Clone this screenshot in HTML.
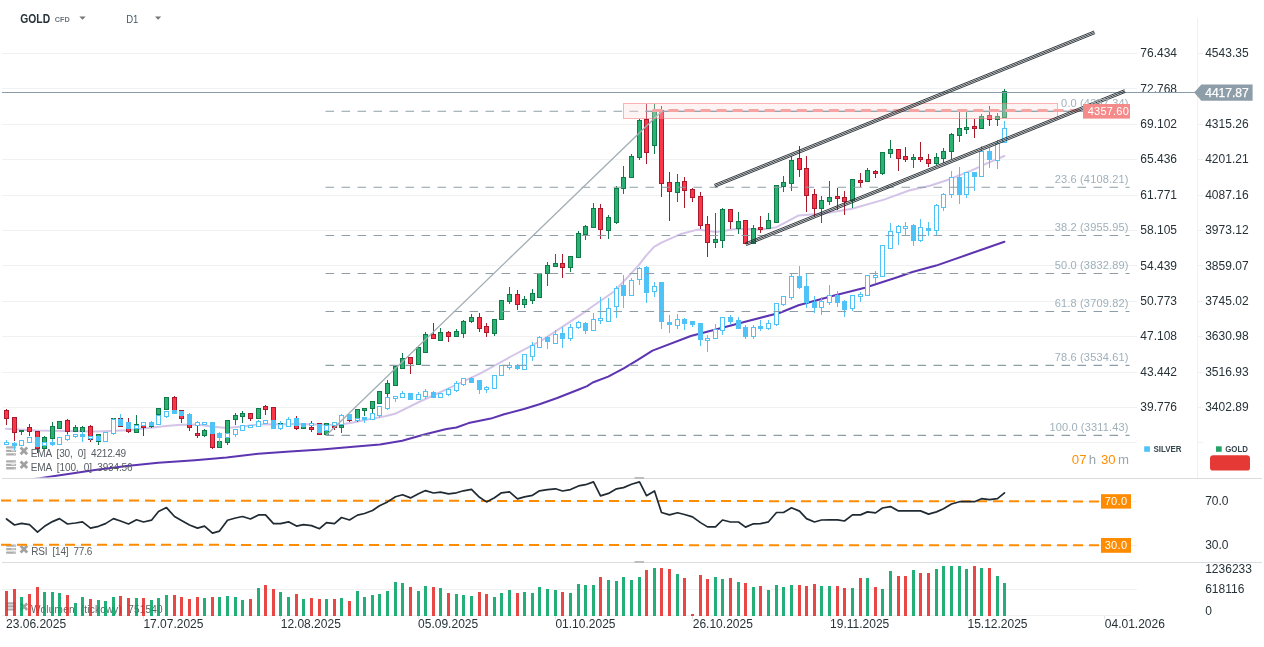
<!DOCTYPE html><html><head><meta charset="utf-8"><title>GOLD CFD D1</title>
<style>html,body{margin:0;padding:0;background:#fff;}body{width:1264px;height:647px;overflow:hidden;font-family:"Liberation Sans",sans-serif;}svg{display:block;will-change:transform;}text{font-family:"Liberation Sans",sans-serif;}</style></head><body>
<svg width="1264" height="647" viewBox="0 0 1264 647">
<rect width="1264" height="647" fill="#ffffff"/>
<defs><clipPath id="mainclip"><rect x="0" y="26" width="1197" height="451.5"/></clipPath></defs>
<g stroke="#eff1f3" stroke-width="1" shape-rendering="crispEdges">
<line x1="2" y1="53.5" x2="1136.6" y2="53.5"/>
<line x1="1197.5" y1="53.5" x2="1202.5" y2="53.5"/>
<line x1="2" y1="88.5" x2="1136.6" y2="88.5"/>
<line x1="1197.5" y1="88.5" x2="1202.5" y2="88.5"/>
<line x1="2" y1="124.5" x2="1136.6" y2="124.5"/>
<line x1="1197.5" y1="124.5" x2="1202.5" y2="124.5"/>
<line x1="2" y1="159.5" x2="1136.6" y2="159.5"/>
<line x1="1197.5" y1="159.5" x2="1202.5" y2="159.5"/>
<line x1="2" y1="195.5" x2="1136.6" y2="195.5"/>
<line x1="1197.5" y1="195.5" x2="1202.5" y2="195.5"/>
<line x1="2" y1="230.5" x2="1136.6" y2="230.5"/>
<line x1="1197.5" y1="230.5" x2="1202.5" y2="230.5"/>
<line x1="2" y1="265.5" x2="1136.6" y2="265.5"/>
<line x1="1197.5" y1="265.5" x2="1202.5" y2="265.5"/>
<line x1="2" y1="301.5" x2="1136.6" y2="301.5"/>
<line x1="1197.5" y1="301.5" x2="1202.5" y2="301.5"/>
<line x1="2" y1="336.5" x2="1136.6" y2="336.5"/>
<line x1="1197.5" y1="336.5" x2="1202.5" y2="336.5"/>
<line x1="2" y1="372.5" x2="1136.6" y2="372.5"/>
<line x1="1197.5" y1="372.5" x2="1202.5" y2="372.5"/>
<line x1="2" y1="407.5" x2="1136.6" y2="407.5"/>
<line x1="1197.5" y1="407.5" x2="1202.5" y2="407.5"/>
<line x1="2" y1="442.5" x2="1136.6" y2="442.5"/>
<line x1="1197.5" y1="442.5" x2="1202.5" y2="442.5"/>
<line x1="2" y1="501.5" x2="1136.6" y2="501.5"/>
<line x1="2" y1="545.5" x2="1136.6" y2="545.5"/>
<line x1="2" y1="589.5" x2="1136.6" y2="589.5"/>
<line x1="2" y1="615.5" x2="1131" y2="615.5"/>
<line x1="1197.5" y1="18" x2="1197.5" y2="478"/>
</g>
<g stroke="#d9dcde" stroke-width="1" shape-rendering="crispEdges">
<line x1="2" y1="478.5" x2="1261.5" y2="478.5"/>
<line x1="2" y1="562.5" x2="1261.5" y2="562.5"/>
</g>
<rect x="634.5" y="477" width="9.5" height="2" fill="#bdbdbd"/>
<rect x="634.5" y="561" width="9.5" height="2" fill="#bdbdbd"/>
<g clip-path="url(#mainclip)">
<path d="M6 428.7 L36 430.6 L97 431.4 L128 430.3 L166 425.9 L181 424.8 L197 424.5 L211 426.5 L227 428 L242 426.5 L258 424.6 L290 424.1 L322 424.6 L337 424.9 L353 422.5 L369 419.3 L385 416.2 L395 413.8 L419 402 L448 388.6 L480 373.6 L510 357 L543 339.6 L585 311.9 L591.6 307 L614.5 291.2 L638.2 265.9 L646.1 255.6 L654 246.9 L662 242.3 L680 234.3 L697.5 229.6 L716.5 232 L737 228.8 L760.8 229.6 L776.6 227.2 L798.7 215.4 L824 213.6 L852 208.8 L884 199.6 L909 190.5 L930 185.7 L947.5 180 L971.2 170.6 L987 163.4 L1004.4 156" fill="none" stroke="#d4c4e8" stroke-width="2" stroke-linejoin="round" stroke-linecap="round" />
<path d="M6 482.5 L38 478.4 L63.3 474.7 L94.9 470 L126.6 466 L158.2 462.8 L195 460.2 L226.6 457.6 L258.3 453.8 L290 451.5 L321.6 449.4 L353.2 446.7 L380 444.6 L402.2 440.8 L424.3 434.6 L446.5 429.1 L456.4 427.5 L468.6 423.1 L490.8 418.6 L504.1 414.2 L524 409.1 L539.5 404.2 L557.2 398 L579.4 389.2 L587.1 386.1 L592.7 382.5 L608.2 376.6 L623.7 368.4 L637 360.4 L652.5 350.6 L690.8 336 L722.4 327.8 L746.1 321.5 L780 312.8 L798.5 305.2 L833.3 295.7 L865 287.8 L896.6 277.5 L912.4 272 L936.1 265.6 L970 253.8 L1004.4 241.8" fill="none" stroke="#5e35b1" stroke-width="2.05" stroke-linejoin="round" stroke-linecap="round" />
<rect x="6.1" y="446.3" width="9.9" height="2.3" rx="0.6" fill="#adadad"/>
<rect x="13.8" y="447.1" width="1.5" height="0.7" fill="#ffffff" opacity="0.7"/>
<rect x="6.1" y="449.75" width="9.9" height="2.3" rx="0.6" fill="#adadad"/>
<rect x="11.2" y="450.45" width="3.9" height="0.75" fill="#ffffff" opacity="0.85"/>
<rect x="6.1" y="453.2" width="9.9" height="2.3" rx="0.6" fill="#adadad"/>
<rect x="13.8" y="454" width="1.5" height="0.7" fill="#ffffff" opacity="0.7"/>
<path d="M20.6 447.6 L27.2 454.2 M27.2 447.6 L20.6 454.2" stroke="#a2a2a2" stroke-width="2.8" stroke-linecap="butt"/>
<rect x="6.1" y="460.2" width="9.9" height="2.3" rx="0.6" fill="#adadad"/>
<rect x="13.8" y="461" width="1.5" height="0.7" fill="#ffffff" opacity="0.7"/>
<rect x="6.1" y="463.65" width="9.9" height="2.3" rx="0.6" fill="#adadad"/>
<rect x="11.2" y="464.35" width="3.9" height="0.75" fill="#ffffff" opacity="0.85"/>
<rect x="6.1" y="467.1" width="9.9" height="2.3" rx="0.6" fill="#adadad"/>
<rect x="13.8" y="467.9" width="1.5" height="0.7" fill="#ffffff" opacity="0.7"/>
<path d="M20.6 461.5 L27.2 468.1 M27.2 461.5 L20.6 468.1" stroke="#a2a2a2" stroke-width="2.8" stroke-linecap="butt"/>
<text x="30.8" y="456.8" font-size="10" fill="#555b60" textLength="95.3" lengthAdjust="spacing" xml:space="preserve">EMA  [30,  0]  4212.49</text>
<text x="30.8" y="470.7" font-size="10" fill="#555b60" textLength="101.8" lengthAdjust="spacing" xml:space="preserve">EMA  [100,  0]  3934.56</text>
<line x1="6.5" y1="409" x2="6.5" y2="425" stroke="#a81a2c" stroke-width="1"/>
<rect x="4.5" y="410.5" width="4" height="8" fill="#fc3548" stroke="#a81a2c" stroke-width="1"/>
<line x1="14.5" y1="417" x2="14.5" y2="441" stroke="#a81a2c" stroke-width="1"/>
<rect x="12.5" y="417.5" width="4" height="15" fill="#fc3548" stroke="#a81a2c" stroke-width="1"/>
<line x1="21.5" y1="430" x2="21.5" y2="435" stroke="#107a49" stroke-width="1"/>
<rect x="19.5" y="430.5" width="4" height="1" fill="#2ab272" stroke="#107a49" stroke-width="1"/>
<line x1="29.5" y1="424" x2="29.5" y2="436" stroke="#a81a2c" stroke-width="1"/>
<rect x="27.5" y="427.5" width="4" height="4" fill="#fc3548" stroke="#a81a2c" stroke-width="1"/>
<line x1="37.5" y1="431" x2="37.5" y2="453" stroke="#a81a2c" stroke-width="1"/>
<rect x="35.5" y="431.5" width="4" height="17" fill="#fc3548" stroke="#a81a2c" stroke-width="1"/>
<line x1="44.5" y1="436" x2="44.5" y2="448" stroke="#107a49" stroke-width="1"/>
<rect x="42.5" y="437.5" width="4" height="11" fill="#2ab272" stroke="#107a49" stroke-width="1"/>
<line x1="52.5" y1="422" x2="52.5" y2="438" stroke="#107a49" stroke-width="1"/>
<rect x="50.5" y="426.5" width="4" height="12" fill="#2ab272" stroke="#107a49" stroke-width="1"/>
<line x1="59.5" y1="422" x2="59.5" y2="428" stroke="#107a49" stroke-width="1"/>
<rect x="57.5" y="421.5" width="4" height="7" fill="#2ab272" stroke="#107a49" stroke-width="1"/>
<line x1="67.5" y1="419" x2="67.5" y2="434" stroke="#a81a2c" stroke-width="1"/>
<rect x="65.5" y="420.5" width="4" height="11" fill="#fc3548" stroke="#a81a2c" stroke-width="1"/>
<line x1="75.5" y1="425" x2="75.5" y2="431" stroke="#107a49" stroke-width="1"/>
<rect x="73.5" y="427.5" width="4" height="4" fill="#2ab272" stroke="#107a49" stroke-width="1"/>
<line x1="82.5" y1="426" x2="82.5" y2="431" stroke="#107a49" stroke-width="1"/>
<rect x="80.5" y="427.5" width="4" height="4" fill="#2ab272" stroke="#107a49" stroke-width="1"/>
<line x1="90.5" y1="425" x2="90.5" y2="442" stroke="#a81a2c" stroke-width="1"/>
<rect x="88.5" y="426.5" width="4" height="13" fill="#fc3548" stroke="#a81a2c" stroke-width="1"/>
<line x1="98.5" y1="434" x2="98.5" y2="445" stroke="#107a49" stroke-width="1"/>
<rect x="96.5" y="434.5" width="4" height="7" fill="#2ab272" stroke="#107a49" stroke-width="1"/>
<line x1="105.5" y1="432" x2="105.5" y2="434" stroke="#107a49" stroke-width="1"/>
<rect x="103.5" y="432.5" width="4" height="1" fill="#2ab272" stroke="#107a49" stroke-width="1"/>
<line x1="113.5" y1="418" x2="113.5" y2="420" stroke="#107a49" stroke-width="1"/>
<rect x="111.5" y="418.5" width="4" height="1" fill="#2ab272" stroke="#107a49" stroke-width="1"/>
<line x1="120.5" y1="418" x2="120.5" y2="427" stroke="#a81a2c" stroke-width="1"/>
<rect x="118.5" y="418.5" width="4" height="8" fill="#fc3548" stroke="#a81a2c" stroke-width="1"/>
<line x1="128.5" y1="418" x2="128.5" y2="433" stroke="#a81a2c" stroke-width="1"/>
<rect x="126.5" y="422.5" width="4" height="9" fill="#fc3548" stroke="#a81a2c" stroke-width="1"/>
<line x1="136.5" y1="415" x2="136.5" y2="432" stroke="#107a49" stroke-width="1"/>
<rect x="134.5" y="424.5" width="4" height="8" fill="#2ab272" stroke="#107a49" stroke-width="1"/>
<line x1="143.5" y1="426" x2="143.5" y2="436" stroke="#a81a2c" stroke-width="1"/>
<rect x="141.5" y="425.5" width="4" height="2" fill="#fc3548" stroke="#a81a2c" stroke-width="1"/>
<line x1="151.5" y1="421" x2="151.5" y2="428" stroke="#107a49" stroke-width="1"/>
<rect x="149.5" y="422.5" width="4" height="4" fill="#2ab272" stroke="#107a49" stroke-width="1"/>
<line x1="158.5" y1="408" x2="158.5" y2="415" stroke="#107a49" stroke-width="1"/>
<rect x="156.5" y="408.5" width="4" height="6" fill="#2ab272" stroke="#107a49" stroke-width="1"/>
<line x1="166.5" y1="397" x2="166.5" y2="410" stroke="#107a49" stroke-width="1"/>
<rect x="164.5" y="397.5" width="4" height="12" fill="#2ab272" stroke="#107a49" stroke-width="1"/>
<line x1="174.5" y1="396" x2="174.5" y2="413" stroke="#a81a2c" stroke-width="1"/>
<rect x="172.5" y="397.5" width="4" height="16" fill="#fc3548" stroke="#a81a2c" stroke-width="1"/>
<line x1="181.5" y1="410" x2="181.5" y2="423" stroke="#a81a2c" stroke-width="1"/>
<rect x="179.5" y="410.5" width="4" height="8" fill="#fc3548" stroke="#a81a2c" stroke-width="1"/>
<line x1="189.5" y1="413" x2="189.5" y2="431" stroke="#a81a2c" stroke-width="1"/>
<rect x="187.5" y="414.5" width="4" height="13" fill="#fc3548" stroke="#a81a2c" stroke-width="1"/>
<line x1="197.5" y1="426" x2="197.5" y2="438" stroke="#a81a2c" stroke-width="1"/>
<rect x="195.5" y="433.5" width="4" height="2" fill="#fc3548" stroke="#a81a2c" stroke-width="1"/>
<line x1="204.5" y1="429" x2="204.5" y2="437" stroke="#107a49" stroke-width="1"/>
<rect x="202.5" y="430.5" width="4" height="5" fill="#2ab272" stroke="#107a49" stroke-width="1"/>
<line x1="212.5" y1="422" x2="212.5" y2="449" stroke="#a81a2c" stroke-width="1"/>
<rect x="210.5" y="422.5" width="4" height="25" fill="#fc3548" stroke="#a81a2c" stroke-width="1"/>
<line x1="219.5" y1="433" x2="219.5" y2="448" stroke="#107a49" stroke-width="1"/>
<rect x="217.5" y="441.5" width="4" height="6" fill="#2ab272" stroke="#107a49" stroke-width="1"/>
<line x1="227.5" y1="420" x2="227.5" y2="445" stroke="#107a49" stroke-width="1"/>
<rect x="225.5" y="420.5" width="4" height="22" fill="#2ab272" stroke="#107a49" stroke-width="1"/>
<line x1="235.5" y1="413" x2="235.5" y2="425" stroke="#107a49" stroke-width="1"/>
<rect x="233.5" y="415.5" width="4" height="4" fill="#2ab272" stroke="#107a49" stroke-width="1"/>
<line x1="242.5" y1="411" x2="242.5" y2="423" stroke="#107a49" stroke-width="1"/>
<rect x="240.5" y="413.5" width="4" height="3" fill="#2ab272" stroke="#107a49" stroke-width="1"/>
<line x1="250.5" y1="414" x2="250.5" y2="421" stroke="#a81a2c" stroke-width="1"/>
<rect x="248.5" y="413.5" width="4" height="5" fill="#fc3548" stroke="#a81a2c" stroke-width="1"/>
<line x1="258.5" y1="408" x2="258.5" y2="419" stroke="#107a49" stroke-width="1"/>
<rect x="256.5" y="408.5" width="4" height="10" fill="#2ab272" stroke="#107a49" stroke-width="1"/>
<line x1="265.5" y1="405" x2="265.5" y2="415" stroke="#a81a2c" stroke-width="1"/>
<rect x="263.5" y="406.5" width="4" height="3" fill="#fc3548" stroke="#a81a2c" stroke-width="1"/>
<line x1="273.5" y1="407" x2="273.5" y2="428" stroke="#a81a2c" stroke-width="1"/>
<rect x="271.5" y="407.5" width="4" height="20" fill="#fc3548" stroke="#a81a2c" stroke-width="1"/>
<line x1="280.5" y1="421" x2="280.5" y2="430" stroke="#107a49" stroke-width="1"/>
<rect x="278.5" y="423.5" width="4" height="1" fill="#2ab272" stroke="#107a49" stroke-width="1"/>
<line x1="288.5" y1="417" x2="288.5" y2="426" stroke="#107a49" stroke-width="1"/>
<rect x="286.5" y="419.5" width="4" height="1" fill="#2ab272" stroke="#107a49" stroke-width="1"/>
<line x1="296.5" y1="416" x2="296.5" y2="430" stroke="#a81a2c" stroke-width="1"/>
<rect x="294.5" y="420.5" width="4" height="8" fill="#fc3548" stroke="#a81a2c" stroke-width="1"/>
<line x1="303.5" y1="424" x2="303.5" y2="428" stroke="#107a49" stroke-width="1"/>
<rect x="301.5" y="424.5" width="4" height="4" fill="#2ab272" stroke="#107a49" stroke-width="1"/>
<line x1="311.5" y1="421" x2="311.5" y2="432" stroke="#a81a2c" stroke-width="1"/>
<rect x="309.5" y="427.5" width="4" height="2" fill="#fc3548" stroke="#a81a2c" stroke-width="1"/>
<line x1="319.5" y1="423" x2="319.5" y2="435" stroke="#a81a2c" stroke-width="1"/>
<rect x="317.5" y="423.5" width="4" height="11" fill="#fc3548" stroke="#a81a2c" stroke-width="1"/>
<line x1="326.5" y1="423" x2="326.5" y2="435" stroke="#107a49" stroke-width="1"/>
<rect x="324.5" y="423.5" width="4" height="11" fill="#2ab272" stroke="#107a49" stroke-width="1"/>
<line x1="334.5" y1="424" x2="334.5" y2="430" stroke="#a81a2c" stroke-width="1"/>
<rect x="332.5" y="426.5" width="4" height="1" fill="#fc3548" stroke="#a81a2c" stroke-width="1"/>
<line x1="341.5" y1="423" x2="341.5" y2="433" stroke="#107a49" stroke-width="1"/>
<rect x="339.5" y="425.5" width="4" height="2" fill="#2ab272" stroke="#107a49" stroke-width="1"/>
<line x1="349.5" y1="419" x2="349.5" y2="422" stroke="#a81a2c" stroke-width="1"/>
<rect x="347.5" y="419.5" width="4" height="1" fill="#fc3548" stroke="#a81a2c" stroke-width="1"/>
<line x1="357.5" y1="409" x2="357.5" y2="422" stroke="#107a49" stroke-width="1"/>
<rect x="355.5" y="409.5" width="4" height="9" fill="#2ab272" stroke="#107a49" stroke-width="1"/>
<line x1="364.5" y1="408" x2="364.5" y2="416" stroke="#107a49" stroke-width="1"/>
<rect x="362.5" y="408.5" width="4" height="2" fill="#2ab272" stroke="#107a49" stroke-width="1"/>
<line x1="372.5" y1="401" x2="372.5" y2="413" stroke="#107a49" stroke-width="1"/>
<rect x="370.5" y="401.5" width="4" height="7" fill="#2ab272" stroke="#107a49" stroke-width="1"/>
<line x1="379.5" y1="391" x2="379.5" y2="404" stroke="#107a49" stroke-width="1"/>
<rect x="377.5" y="391.5" width="4" height="12" fill="#2ab272" stroke="#107a49" stroke-width="1"/>
<line x1="387.5" y1="380" x2="387.5" y2="397" stroke="#107a49" stroke-width="1"/>
<rect x="385.5" y="383.5" width="4" height="10" fill="#2ab272" stroke="#107a49" stroke-width="1"/>
<line x1="395.5" y1="366" x2="395.5" y2="386" stroke="#107a49" stroke-width="1"/>
<rect x="393.5" y="366.5" width="4" height="19" fill="#2ab272" stroke="#107a49" stroke-width="1"/>
<line x1="402.5" y1="353" x2="402.5" y2="369" stroke="#107a49" stroke-width="1"/>
<rect x="400.5" y="358.5" width="4" height="10" fill="#2ab272" stroke="#107a49" stroke-width="1"/>
<line x1="410.5" y1="357" x2="410.5" y2="374" stroke="#a81a2c" stroke-width="1"/>
<rect x="408.5" y="357.5" width="4" height="6" fill="#fc3548" stroke="#a81a2c" stroke-width="1"/>
<line x1="418.5" y1="347" x2="418.5" y2="365" stroke="#107a49" stroke-width="1"/>
<rect x="416.5" y="347.5" width="4" height="17" fill="#2ab272" stroke="#107a49" stroke-width="1"/>
<line x1="425.5" y1="332" x2="425.5" y2="352" stroke="#107a49" stroke-width="1"/>
<rect x="423.5" y="334.5" width="4" height="18" fill="#2ab272" stroke="#107a49" stroke-width="1"/>
<line x1="433.5" y1="323" x2="433.5" y2="339" stroke="#a81a2c" stroke-width="1"/>
<rect x="431.5" y="334.5" width="4" height="4" fill="#fc3548" stroke="#a81a2c" stroke-width="1"/>
<line x1="440.5" y1="328" x2="440.5" y2="341" stroke="#107a49" stroke-width="1"/>
<rect x="438.5" y="332.5" width="4" height="8" fill="#2ab272" stroke="#107a49" stroke-width="1"/>
<line x1="448.5" y1="331" x2="448.5" y2="342" stroke="#a81a2c" stroke-width="1"/>
<rect x="446.5" y="332.5" width="4" height="4" fill="#fc3548" stroke="#a81a2c" stroke-width="1"/>
<line x1="456.5" y1="329" x2="456.5" y2="337" stroke="#107a49" stroke-width="1"/>
<rect x="454.5" y="331.5" width="4" height="5" fill="#2ab272" stroke="#107a49" stroke-width="1"/>
<line x1="463.5" y1="320" x2="463.5" y2="338" stroke="#107a49" stroke-width="1"/>
<rect x="461.5" y="321.5" width="4" height="12" fill="#2ab272" stroke="#107a49" stroke-width="1"/>
<line x1="471.5" y1="314" x2="471.5" y2="323" stroke="#107a49" stroke-width="1"/>
<rect x="469.5" y="317.5" width="4" height="4" fill="#2ab272" stroke="#107a49" stroke-width="1"/>
<line x1="479.5" y1="313" x2="479.5" y2="332" stroke="#a81a2c" stroke-width="1"/>
<rect x="477.5" y="317.5" width="4" height="11" fill="#fc3548" stroke="#a81a2c" stroke-width="1"/>
<line x1="486.5" y1="323" x2="486.5" y2="337" stroke="#a81a2c" stroke-width="1"/>
<rect x="484.5" y="326.5" width="4" height="6" fill="#fc3548" stroke="#a81a2c" stroke-width="1"/>
<line x1="494.5" y1="319" x2="494.5" y2="336" stroke="#107a49" stroke-width="1"/>
<rect x="492.5" y="319.5" width="4" height="14" fill="#2ab272" stroke="#107a49" stroke-width="1"/>
<line x1="501.5" y1="300" x2="501.5" y2="320" stroke="#107a49" stroke-width="1"/>
<rect x="499.5" y="300.5" width="4" height="19" fill="#2ab272" stroke="#107a49" stroke-width="1"/>
<line x1="509.5" y1="287" x2="509.5" y2="304" stroke="#107a49" stroke-width="1"/>
<rect x="507.5" y="294.5" width="4" height="7" fill="#2ab272" stroke="#107a49" stroke-width="1"/>
<line x1="517.5" y1="290" x2="517.5" y2="310" stroke="#a81a2c" stroke-width="1"/>
<rect x="515.5" y="294.5" width="4" height="10" fill="#fc3548" stroke="#a81a2c" stroke-width="1"/>
<line x1="524.5" y1="296" x2="524.5" y2="308" stroke="#107a49" stroke-width="1"/>
<rect x="522.5" y="299.5" width="4" height="5" fill="#2ab272" stroke="#107a49" stroke-width="1"/>
<line x1="532.5" y1="289" x2="532.5" y2="304" stroke="#107a49" stroke-width="1"/>
<rect x="530.5" y="293.5" width="4" height="7" fill="#2ab272" stroke="#107a49" stroke-width="1"/>
<line x1="539.5" y1="274" x2="539.5" y2="298" stroke="#107a49" stroke-width="1"/>
<rect x="537.5" y="273.5" width="4" height="24" fill="#2ab272" stroke="#107a49" stroke-width="1"/>
<line x1="547.5" y1="262" x2="547.5" y2="286" stroke="#107a49" stroke-width="1"/>
<rect x="545.5" y="265.5" width="4" height="8" fill="#2ab272" stroke="#107a49" stroke-width="1"/>
<line x1="555.5" y1="254" x2="555.5" y2="266" stroke="#107a49" stroke-width="1"/>
<rect x="553.5" y="263.5" width="4" height="3" fill="#2ab272" stroke="#107a49" stroke-width="1"/>
<line x1="562.5" y1="254" x2="562.5" y2="278" stroke="#a81a2c" stroke-width="1"/>
<rect x="560.5" y="263.5" width="4" height="4" fill="#fc3548" stroke="#a81a2c" stroke-width="1"/>
<line x1="570.5" y1="256" x2="570.5" y2="272" stroke="#107a49" stroke-width="1"/>
<rect x="568.5" y="256.5" width="4" height="11" fill="#2ab272" stroke="#107a49" stroke-width="1"/>
<line x1="578.5" y1="231" x2="578.5" y2="258" stroke="#107a49" stroke-width="1"/>
<rect x="576.5" y="233.5" width="4" height="24" fill="#2ab272" stroke="#107a49" stroke-width="1"/>
<line x1="585.5" y1="225" x2="585.5" y2="240" stroke="#107a49" stroke-width="1"/>
<rect x="583.5" y="226.5" width="4" height="8" fill="#2ab272" stroke="#107a49" stroke-width="1"/>
<line x1="593.5" y1="203" x2="593.5" y2="228" stroke="#107a49" stroke-width="1"/>
<rect x="591.5" y="208.5" width="4" height="19" fill="#2ab272" stroke="#107a49" stroke-width="1"/>
<line x1="600.5" y1="204" x2="600.5" y2="239" stroke="#a81a2c" stroke-width="1"/>
<rect x="598.5" y="208.5" width="4" height="21" fill="#fc3548" stroke="#a81a2c" stroke-width="1"/>
<line x1="608.5" y1="215" x2="608.5" y2="239" stroke="#107a49" stroke-width="1"/>
<rect x="606.5" y="217.5" width="4" height="13" fill="#2ab272" stroke="#107a49" stroke-width="1"/>
<line x1="616.5" y1="186" x2="616.5" y2="224" stroke="#107a49" stroke-width="1"/>
<rect x="614.5" y="188.5" width="4" height="34" fill="#2ab272" stroke="#107a49" stroke-width="1"/>
<line x1="623.5" y1="166" x2="623.5" y2="194" stroke="#107a49" stroke-width="1"/>
<rect x="621.5" y="177.5" width="4" height="11" fill="#2ab272" stroke="#107a49" stroke-width="1"/>
<line x1="631.5" y1="154" x2="631.5" y2="178" stroke="#107a49" stroke-width="1"/>
<rect x="629.5" y="156.5" width="4" height="21" fill="#2ab272" stroke="#107a49" stroke-width="1"/>
<line x1="639.5" y1="119" x2="639.5" y2="160" stroke="#107a49" stroke-width="1"/>
<rect x="637.5" y="120.5" width="4" height="37" fill="#2ab272" stroke="#107a49" stroke-width="1"/>
<line x1="646.5" y1="104" x2="646.5" y2="164" stroke="#a81a2c" stroke-width="1"/>
<rect x="644.5" y="119.5" width="4" height="33" fill="#fc3548" stroke="#a81a2c" stroke-width="1"/>
<line x1="654.5" y1="104" x2="654.5" y2="154" stroke="#107a49" stroke-width="1"/>
<rect x="652.5" y="110.5" width="4" height="35" fill="#2ab272" stroke="#107a49" stroke-width="1"/>
<line x1="661.5" y1="106" x2="661.5" y2="197" stroke="#a81a2c" stroke-width="1"/>
<rect x="659.5" y="110.5" width="4" height="73" fill="#fc3548" stroke="#a81a2c" stroke-width="1"/>
<line x1="669.5" y1="172" x2="669.5" y2="221" stroke="#a81a2c" stroke-width="1"/>
<rect x="667.5" y="182.5" width="4" height="9" fill="#fc3548" stroke="#a81a2c" stroke-width="1"/>
<line x1="677.5" y1="174" x2="677.5" y2="202" stroke="#107a49" stroke-width="1"/>
<rect x="675.5" y="182.5" width="4" height="10" fill="#2ab272" stroke="#107a49" stroke-width="1"/>
<line x1="684.5" y1="177" x2="684.5" y2="208" stroke="#a81a2c" stroke-width="1"/>
<rect x="682.5" y="181.5" width="4" height="9" fill="#fc3548" stroke="#a81a2c" stroke-width="1"/>
<line x1="692.5" y1="188" x2="692.5" y2="202" stroke="#a81a2c" stroke-width="1"/>
<rect x="690.5" y="189.5" width="4" height="8" fill="#fc3548" stroke="#a81a2c" stroke-width="1"/>
<line x1="700.5" y1="192" x2="700.5" y2="229" stroke="#a81a2c" stroke-width="1"/>
<rect x="698.5" y="196.5" width="4" height="29" fill="#fc3548" stroke="#a81a2c" stroke-width="1"/>
<line x1="707.5" y1="216" x2="707.5" y2="257" stroke="#a81a2c" stroke-width="1"/>
<rect x="705.5" y="224.5" width="4" height="18" fill="#fc3548" stroke="#a81a2c" stroke-width="1"/>
<line x1="715.5" y1="213" x2="715.5" y2="248" stroke="#107a49" stroke-width="1"/>
<rect x="713.5" y="239.5" width="4" height="3" fill="#2ab272" stroke="#107a49" stroke-width="1"/>
<line x1="722.5" y1="208" x2="722.5" y2="248" stroke="#107a49" stroke-width="1"/>
<rect x="720.5" y="209.5" width="4" height="31" fill="#2ab272" stroke="#107a49" stroke-width="1"/>
<line x1="730.5" y1="209" x2="730.5" y2="229" stroke="#a81a2c" stroke-width="1"/>
<rect x="728.5" y="209.5" width="4" height="12" fill="#fc3548" stroke="#a81a2c" stroke-width="1"/>
<line x1="738.5" y1="212" x2="738.5" y2="234" stroke="#107a49" stroke-width="1"/>
<rect x="736.5" y="221.5" width="4" height="7" fill="#2ab272" stroke="#107a49" stroke-width="1"/>
<line x1="745.5" y1="220" x2="745.5" y2="244" stroke="#a81a2c" stroke-width="1"/>
<rect x="743.5" y="220.5" width="4" height="23" fill="#fc3548" stroke="#a81a2c" stroke-width="1"/>
<line x1="753.5" y1="225" x2="753.5" y2="244" stroke="#107a49" stroke-width="1"/>
<rect x="751.5" y="228.5" width="4" height="15" fill="#2ab272" stroke="#107a49" stroke-width="1"/>
<line x1="760.5" y1="216" x2="760.5" y2="233" stroke="#a81a2c" stroke-width="1"/>
<rect x="758.5" y="227.5" width="4" height="2" fill="#fc3548" stroke="#a81a2c" stroke-width="1"/>
<line x1="768.5" y1="213" x2="768.5" y2="228" stroke="#107a49" stroke-width="1"/>
<rect x="766.5" y="220.5" width="4" height="8" fill="#2ab272" stroke="#107a49" stroke-width="1"/>
<line x1="776.5" y1="185" x2="776.5" y2="222" stroke="#107a49" stroke-width="1"/>
<rect x="774.5" y="185.5" width="4" height="37" fill="#2ab272" stroke="#107a49" stroke-width="1"/>
<line x1="783.5" y1="176" x2="783.5" y2="192" stroke="#107a49" stroke-width="1"/>
<rect x="781.5" y="182.5" width="4" height="4" fill="#2ab272" stroke="#107a49" stroke-width="1"/>
<line x1="791.5" y1="156" x2="791.5" y2="191" stroke="#107a49" stroke-width="1"/>
<rect x="789.5" y="160.5" width="4" height="23" fill="#2ab272" stroke="#107a49" stroke-width="1"/>
<line x1="799.5" y1="146" x2="799.5" y2="177" stroke="#a81a2c" stroke-width="1"/>
<rect x="797.5" y="158.5" width="4" height="11" fill="#fc3548" stroke="#a81a2c" stroke-width="1"/>
<line x1="806.5" y1="156" x2="806.5" y2="212" stroke="#a81a2c" stroke-width="1"/>
<rect x="804.5" y="168.5" width="4" height="27" fill="#fc3548" stroke="#a81a2c" stroke-width="1"/>
<line x1="814.5" y1="189" x2="814.5" y2="217" stroke="#a81a2c" stroke-width="1"/>
<rect x="812.5" y="194.5" width="4" height="14" fill="#fc3548" stroke="#a81a2c" stroke-width="1"/>
<line x1="821.5" y1="196" x2="821.5" y2="223" stroke="#107a49" stroke-width="1"/>
<rect x="819.5" y="200.5" width="4" height="8" fill="#2ab272" stroke="#107a49" stroke-width="1"/>
<line x1="829.5" y1="181" x2="829.5" y2="205" stroke="#107a49" stroke-width="1"/>
<rect x="827.5" y="197.5" width="4" height="4" fill="#2ab272" stroke="#107a49" stroke-width="1"/>
<line x1="837.5" y1="188" x2="837.5" y2="210" stroke="#a81a2c" stroke-width="1"/>
<rect x="835.5" y="196.5" width="4" height="2" fill="#fc3548" stroke="#a81a2c" stroke-width="1"/>
<line x1="844.5" y1="191" x2="844.5" y2="215" stroke="#a81a2c" stroke-width="1"/>
<rect x="842.5" y="197.5" width="4" height="4" fill="#fc3548" stroke="#a81a2c" stroke-width="1"/>
<line x1="852.5" y1="179" x2="852.5" y2="208" stroke="#107a49" stroke-width="1"/>
<rect x="850.5" y="179.5" width="4" height="21" fill="#2ab272" stroke="#107a49" stroke-width="1"/>
<line x1="860.5" y1="173" x2="860.5" y2="187" stroke="#a81a2c" stroke-width="1"/>
<rect x="858.5" y="180.5" width="4" height="2" fill="#fc3548" stroke="#a81a2c" stroke-width="1"/>
<line x1="867.5" y1="168" x2="867.5" y2="182" stroke="#107a49" stroke-width="1"/>
<rect x="865.5" y="170.5" width="4" height="11" fill="#2ab272" stroke="#107a49" stroke-width="1"/>
<line x1="875.5" y1="170" x2="875.5" y2="178" stroke="#a81a2c" stroke-width="1"/>
<rect x="873.5" y="171.5" width="4" height="2" fill="#fc3548" stroke="#a81a2c" stroke-width="1"/>
<line x1="882.5" y1="152" x2="882.5" y2="175" stroke="#107a49" stroke-width="1"/>
<rect x="880.5" y="152.5" width="4" height="21" fill="#2ab272" stroke="#107a49" stroke-width="1"/>
<line x1="890.5" y1="140" x2="890.5" y2="158" stroke="#107a49" stroke-width="1"/>
<rect x="888.5" y="149.5" width="4" height="4" fill="#2ab272" stroke="#107a49" stroke-width="1"/>
<line x1="898.5" y1="149" x2="898.5" y2="171" stroke="#a81a2c" stroke-width="1"/>
<rect x="896.5" y="149.5" width="4" height="9" fill="#fc3548" stroke="#a81a2c" stroke-width="1"/>
<line x1="905.5" y1="147" x2="905.5" y2="162" stroke="#a81a2c" stroke-width="1"/>
<rect x="903.5" y="156.5" width="4" height="3" fill="#fc3548" stroke="#a81a2c" stroke-width="1"/>
<line x1="913.5" y1="154" x2="913.5" y2="168" stroke="#107a49" stroke-width="1"/>
<rect x="911.5" y="157.5" width="4" height="2" fill="#2ab272" stroke="#107a49" stroke-width="1"/>
<line x1="920.5" y1="142" x2="920.5" y2="162" stroke="#a81a2c" stroke-width="1"/>
<rect x="918.5" y="157.5" width="4" height="2" fill="#fc3548" stroke="#a81a2c" stroke-width="1"/>
<line x1="928.5" y1="154" x2="928.5" y2="167" stroke="#a81a2c" stroke-width="1"/>
<rect x="926.5" y="159.5" width="4" height="4" fill="#fc3548" stroke="#a81a2c" stroke-width="1"/>
<line x1="936.5" y1="153" x2="936.5" y2="165" stroke="#107a49" stroke-width="1"/>
<rect x="934.5" y="157.5" width="4" height="6" fill="#2ab272" stroke="#107a49" stroke-width="1"/>
<line x1="943.5" y1="148" x2="943.5" y2="163" stroke="#107a49" stroke-width="1"/>
<rect x="941.5" y="151.5" width="4" height="7" fill="#2ab272" stroke="#107a49" stroke-width="1"/>
<line x1="951.5" y1="133" x2="951.5" y2="159" stroke="#107a49" stroke-width="1"/>
<rect x="949.5" y="134.5" width="4" height="17" fill="#2ab272" stroke="#107a49" stroke-width="1"/>
<line x1="959.5" y1="112" x2="959.5" y2="142" stroke="#107a49" stroke-width="1"/>
<rect x="957.5" y="128.5" width="4" height="7" fill="#2ab272" stroke="#107a49" stroke-width="1"/>
<line x1="966.5" y1="112" x2="966.5" y2="134" stroke="#107a49" stroke-width="1"/>
<rect x="964.5" y="127.5" width="4" height="2" fill="#2ab272" stroke="#107a49" stroke-width="1"/>
<line x1="974.5" y1="119" x2="974.5" y2="138" stroke="#a81a2c" stroke-width="1"/>
<rect x="972.5" y="126.5" width="4" height="2" fill="#fc3548" stroke="#a81a2c" stroke-width="1"/>
<line x1="981.5" y1="114" x2="981.5" y2="129" stroke="#107a49" stroke-width="1"/>
<rect x="979.5" y="116.5" width="4" height="12" fill="#2ab272" stroke="#107a49" stroke-width="1"/>
<line x1="989.5" y1="106" x2="989.5" y2="126" stroke="#a81a2c" stroke-width="1"/>
<rect x="987.5" y="115.5" width="4" height="4" fill="#fc3548" stroke="#a81a2c" stroke-width="1"/>
<line x1="997.5" y1="113" x2="997.5" y2="126" stroke="#107a49" stroke-width="1"/>
<rect x="995.5" y="116.5" width="4" height="3" fill="#2ab272" stroke="#107a49" stroke-width="1"/>
<line x1="1004.5" y1="89" x2="1004.5" y2="118" stroke="#107a49" stroke-width="1"/>
<rect x="1002.5" y="91.5" width="4" height="26" fill="#2ab272" stroke="#107a49" stroke-width="1"/>
<g stroke="#4fc3f7" stroke-width="1">
<line x1="6.5" y1="440" x2="6.5" y2="442.5"/>
<line x1="6.5" y1="444.5" x2="6.5" y2="445"/>
<rect x="4.5" y="442.5" width="4" height="2" fill="#ffffff"/>
<line x1="14.5" y1="442" x2="14.5" y2="443.5"/>
<line x1="14.5" y1="445.5" x2="14.5" y2="450"/>
<rect x="12.5" y="443.5" width="4" height="2" fill="#4fc3f7"/>
<line x1="21.5" y1="440" x2="21.5" y2="440.5"/>
<line x1="21.5" y1="445.5" x2="21.5" y2="446"/>
<rect x="19.5" y="440.5" width="4" height="5" fill="#ffffff"/>
<line x1="29.5" y1="437" x2="29.5" y2="437.5"/>
<rect x="27.5" y="437.5" width="4" height="5" fill="#ffffff"/>
<line x1="37.5" y1="437" x2="37.5" y2="437.5"/>
<rect x="35.5" y="437.5" width="4" height="9" fill="#4fc3f7"/>
<line x1="44.5" y1="442" x2="44.5" y2="442.5"/>
<line x1="44.5" y1="445.5" x2="44.5" y2="446"/>
<rect x="42.5" y="442.5" width="4" height="3" fill="#ffffff"/>
<line x1="52.5" y1="439" x2="52.5" y2="442.5"/>
<line x1="52.5" y1="444.5" x2="52.5" y2="446"/>
<rect x="50.5" y="442.5" width="4" height="2" fill="#4fc3f7"/>
<line x1="59.5" y1="437" x2="59.5" y2="437.5"/>
<line x1="59.5" y1="444.5" x2="59.5" y2="445"/>
<rect x="57.5" y="437.5" width="4" height="7" fill="#ffffff"/>
<line x1="67.5" y1="434" x2="67.5" y2="435.5"/>
<line x1="67.5" y1="439.5" x2="67.5" y2="441"/>
<rect x="65.5" y="435.5" width="4" height="4" fill="#ffffff"/>
<line x1="75.5" y1="434" x2="75.5" y2="434.5"/>
<line x1="75.5" y1="436.5" x2="75.5" y2="438"/>
<rect x="73.5" y="434.5" width="4" height="2" fill="#ffffff"/>
<line x1="82.5" y1="431" x2="82.5" y2="434.5"/>
<line x1="82.5" y1="436.5" x2="82.5" y2="442"/>
<rect x="80.5" y="434.5" width="4" height="2" fill="#4fc3f7"/>
<line x1="90.5" y1="436" x2="90.5" y2="436.5"/>
<line x1="90.5" y1="438.5" x2="90.5" y2="440"/>
<rect x="88.5" y="436.5" width="4" height="2" fill="#ffffff"/>
<line x1="98.5" y1="436" x2="98.5" y2="436.5"/>
<line x1="98.5" y1="440.5" x2="98.5" y2="441"/>
<rect x="96.5" y="436.5" width="4" height="4" fill="#4fc3f7"/>
<line x1="105.5" y1="432" x2="105.5" y2="432.5"/>
<line x1="105.5" y1="441.5" x2="105.5" y2="442"/>
<rect x="103.5" y="432.5" width="4" height="9" fill="#ffffff"/>
<line x1="113.5" y1="418" x2="113.5" y2="419.5"/>
<line x1="113.5" y1="433.5" x2="113.5" y2="435"/>
<rect x="111.5" y="419.5" width="4" height="14" fill="#ffffff"/>
<line x1="120.5" y1="414" x2="120.5" y2="419.5"/>
<rect x="118.5" y="419.5" width="4" height="6" fill="#4fc3f7"/>
<rect x="126.5" y="422.5" width="4" height="6" fill="#4fc3f7"/>
<line x1="136.5" y1="428.5" x2="136.5" y2="429"/>
<rect x="134.5" y="425.5" width="4" height="3" fill="#ffffff"/>
<line x1="143.5" y1="422" x2="143.5" y2="422.5"/>
<line x1="143.5" y1="425.5" x2="143.5" y2="426"/>
<rect x="141.5" y="422.5" width="4" height="3" fill="#ffffff"/>
<line x1="151.5" y1="421" x2="151.5" y2="422.5"/>
<line x1="151.5" y1="425.5" x2="151.5" y2="426"/>
<rect x="149.5" y="422.5" width="4" height="3" fill="#4fc3f7"/>
<line x1="158.5" y1="415" x2="158.5" y2="415.5"/>
<rect x="156.5" y="415.5" width="4" height="9" fill="#ffffff"/>
<line x1="166.5" y1="411" x2="166.5" y2="411.5"/>
<line x1="166.5" y1="416.5" x2="166.5" y2="418"/>
<rect x="164.5" y="411.5" width="4" height="5" fill="#ffffff"/>
<line x1="174.5" y1="410" x2="174.5" y2="410.5"/>
<line x1="174.5" y1="413.5" x2="174.5" y2="414"/>
<rect x="172.5" y="410.5" width="4" height="3" fill="#4fc3f7"/>
<rect x="179.5" y="411.5" width="4" height="4" fill="#4fc3f7"/>
<line x1="189.5" y1="413" x2="189.5" y2="414.5"/>
<rect x="187.5" y="414.5" width="4" height="10" fill="#4fc3f7"/>
<line x1="197.5" y1="421" x2="197.5" y2="422.5"/>
<rect x="195.5" y="422.5" width="4" height="3" fill="#ffffff"/>
<line x1="204.5" y1="422" x2="204.5" y2="422.5"/>
<line x1="204.5" y1="424.5" x2="204.5" y2="425"/>
<rect x="202.5" y="422.5" width="4" height="2" fill="#ffffff"/>
<line x1="212.5" y1="422" x2="212.5" y2="422.5"/>
<line x1="212.5" y1="433.5" x2="212.5" y2="434"/>
<rect x="210.5" y="422.5" width="4" height="11" fill="#4fc3f7"/>
<line x1="219.5" y1="432" x2="219.5" y2="433.5"/>
<line x1="219.5" y1="437.5" x2="219.5" y2="442"/>
<rect x="217.5" y="433.5" width="4" height="4" fill="#4fc3f7"/>
<line x1="227.5" y1="433" x2="227.5" y2="433.5"/>
<line x1="227.5" y1="437.5" x2="227.5" y2="438"/>
<rect x="225.5" y="433.5" width="4" height="4" fill="#ffffff"/>
<line x1="235.5" y1="434.5" x2="235.5" y2="437"/>
<rect x="233.5" y="429.5" width="4" height="5" fill="#ffffff"/>
<rect x="240.5" y="425.5" width="4" height="5" fill="#ffffff"/>
<line x1="250.5" y1="425" x2="250.5" y2="425.5"/>
<line x1="250.5" y1="427.5" x2="250.5" y2="428"/>
<rect x="248.5" y="425.5" width="4" height="2" fill="#ffffff"/>
<line x1="258.5" y1="420" x2="258.5" y2="421.5"/>
<rect x="256.5" y="421.5" width="4" height="5" fill="#ffffff"/>
<line x1="265.5" y1="420" x2="265.5" y2="420.5"/>
<line x1="265.5" y1="423.5" x2="265.5" y2="424"/>
<rect x="263.5" y="420.5" width="4" height="3" fill="#ffffff"/>
<line x1="273.5" y1="420" x2="273.5" y2="420.5"/>
<line x1="273.5" y1="428.5" x2="273.5" y2="429"/>
<rect x="271.5" y="420.5" width="4" height="8" fill="#4fc3f7"/>
<line x1="280.5" y1="421" x2="280.5" y2="424.5"/>
<line x1="280.5" y1="428.5" x2="280.5" y2="430"/>
<rect x="278.5" y="424.5" width="4" height="4" fill="#ffffff"/>
<line x1="288.5" y1="417" x2="288.5" y2="419.5"/>
<rect x="286.5" y="419.5" width="4" height="7" fill="#ffffff"/>
<line x1="296.5" y1="418" x2="296.5" y2="418.5"/>
<rect x="294.5" y="418.5" width="4" height="7" fill="#4fc3f7"/>
<line x1="303.5" y1="423" x2="303.5" y2="423.5"/>
<rect x="301.5" y="423.5" width="4" height="3" fill="#4fc3f7"/>
<line x1="311.5" y1="425.5" x2="311.5" y2="426"/>
<rect x="309.5" y="423.5" width="4" height="2" fill="#ffffff"/>
<line x1="319.5" y1="424" x2="319.5" y2="424.5"/>
<rect x="317.5" y="424.5" width="4" height="8" fill="#4fc3f7"/>
<line x1="326.5" y1="430.5" x2="326.5" y2="431"/>
<rect x="324.5" y="425.5" width="4" height="5" fill="#ffffff"/>
<line x1="334.5" y1="422" x2="334.5" y2="422.5"/>
<line x1="334.5" y1="425.5" x2="334.5" y2="426"/>
<rect x="332.5" y="422.5" width="4" height="3" fill="#ffffff"/>
<line x1="341.5" y1="414" x2="341.5" y2="415.5"/>
<rect x="339.5" y="415.5" width="4" height="9" fill="#ffffff"/>
<line x1="349.5" y1="414" x2="349.5" y2="414.5"/>
<line x1="349.5" y1="419.5" x2="349.5" y2="420"/>
<rect x="347.5" y="414.5" width="4" height="5" fill="#4fc3f7"/>
<line x1="357.5" y1="418" x2="357.5" y2="418.5"/>
<line x1="357.5" y1="420.5" x2="357.5" y2="421"/>
<rect x="355.5" y="418.5" width="4" height="2" fill="#ffffff"/>
<line x1="364.5" y1="417" x2="364.5" y2="417.5"/>
<line x1="364.5" y1="419.5" x2="364.5" y2="423"/>
<rect x="362.5" y="417.5" width="4" height="2" fill="#4fc3f7"/>
<line x1="372.5" y1="413" x2="372.5" y2="413.5"/>
<line x1="372.5" y1="419.5" x2="372.5" y2="420"/>
<rect x="370.5" y="413.5" width="4" height="6" fill="#ffffff"/>
<line x1="379.5" y1="406" x2="379.5" y2="406.5"/>
<line x1="379.5" y1="415.5" x2="379.5" y2="418"/>
<rect x="377.5" y="406.5" width="4" height="9" fill="#ffffff"/>
<line x1="387.5" y1="408.5" x2="387.5" y2="410"/>
<rect x="385.5" y="397.5" width="4" height="11" fill="#ffffff"/>
<line x1="395.5" y1="396" x2="395.5" y2="396.5"/>
<line x1="395.5" y1="398.5" x2="395.5" y2="402"/>
<rect x="393.5" y="396.5" width="4" height="2" fill="#ffffff"/>
<line x1="402.5" y1="391" x2="402.5" y2="393.5"/>
<line x1="402.5" y1="397.5" x2="402.5" y2="398"/>
<rect x="400.5" y="393.5" width="4" height="4" fill="#ffffff"/>
<line x1="410.5" y1="393" x2="410.5" y2="393.5"/>
<line x1="410.5" y1="399.5" x2="410.5" y2="400"/>
<rect x="408.5" y="393.5" width="4" height="6" fill="#4fc3f7"/>
<line x1="418.5" y1="392" x2="418.5" y2="394.5"/>
<rect x="416.5" y="394.5" width="4" height="5" fill="#ffffff"/>
<line x1="425.5" y1="389" x2="425.5" y2="391.5"/>
<line x1="425.5" y1="396.5" x2="425.5" y2="399"/>
<rect x="423.5" y="391.5" width="4" height="5" fill="#ffffff"/>
<line x1="433.5" y1="391" x2="433.5" y2="392.5"/>
<rect x="431.5" y="392.5" width="4" height="5" fill="#4fc3f7"/>
<line x1="440.5" y1="393" x2="440.5" y2="393.5"/>
<rect x="438.5" y="393.5" width="4" height="4" fill="#ffffff"/>
<line x1="448.5" y1="388" x2="448.5" y2="389.5"/>
<line x1="448.5" y1="394.5" x2="448.5" y2="396"/>
<rect x="446.5" y="389.5" width="4" height="5" fill="#ffffff"/>
<line x1="456.5" y1="381" x2="456.5" y2="383.5"/>
<line x1="456.5" y1="390.5" x2="456.5" y2="392"/>
<rect x="454.5" y="383.5" width="4" height="7" fill="#ffffff"/>
<line x1="463.5" y1="384.5" x2="463.5" y2="386"/>
<rect x="461.5" y="378.5" width="4" height="6" fill="#ffffff"/>
<line x1="471.5" y1="377" x2="471.5" y2="378.5"/>
<line x1="471.5" y1="382.5" x2="471.5" y2="383"/>
<rect x="469.5" y="378.5" width="4" height="4" fill="#4fc3f7"/>
<line x1="479.5" y1="380" x2="479.5" y2="380.5"/>
<line x1="479.5" y1="389.5" x2="479.5" y2="394"/>
<rect x="477.5" y="380.5" width="4" height="9" fill="#4fc3f7"/>
<line x1="486.5" y1="386" x2="486.5" y2="387.5"/>
<line x1="486.5" y1="389.5" x2="486.5" y2="393"/>
<rect x="484.5" y="387.5" width="4" height="2" fill="#ffffff"/>
<rect x="492.5" y="375.5" width="4" height="13" fill="#ffffff"/>
<line x1="501.5" y1="365" x2="501.5" y2="365.5"/>
<line x1="501.5" y1="375.5" x2="501.5" y2="376"/>
<rect x="499.5" y="365.5" width="4" height="10" fill="#ffffff"/>
<line x1="509.5" y1="362" x2="509.5" y2="365.5"/>
<line x1="509.5" y1="367.5" x2="509.5" y2="370"/>
<rect x="507.5" y="365.5" width="4" height="2" fill="#ffffff"/>
<line x1="517.5" y1="364" x2="517.5" y2="365.5"/>
<line x1="517.5" y1="368.5" x2="517.5" y2="370"/>
<rect x="515.5" y="365.5" width="4" height="3" fill="#4fc3f7"/>
<line x1="524.5" y1="369.5" x2="524.5" y2="370"/>
<rect x="522.5" y="354.5" width="4" height="15" fill="#ffffff"/>
<line x1="532.5" y1="342" x2="532.5" y2="345.5"/>
<line x1="532.5" y1="356.5" x2="532.5" y2="361"/>
<rect x="530.5" y="345.5" width="4" height="11" fill="#ffffff"/>
<line x1="539.5" y1="336" x2="539.5" y2="337.5"/>
<line x1="539.5" y1="347.5" x2="539.5" y2="348"/>
<rect x="537.5" y="337.5" width="4" height="10" fill="#ffffff"/>
<line x1="547.5" y1="336" x2="547.5" y2="337.5"/>
<line x1="547.5" y1="341.5" x2="547.5" y2="349"/>
<rect x="545.5" y="337.5" width="4" height="4" fill="#4fc3f7"/>
<line x1="555.5" y1="330" x2="555.5" y2="334.5"/>
<line x1="555.5" y1="343.5" x2="555.5" y2="344"/>
<rect x="553.5" y="334.5" width="4" height="9" fill="#ffffff"/>
<line x1="562.5" y1="327" x2="562.5" y2="333.5"/>
<line x1="562.5" y1="338.5" x2="562.5" y2="348"/>
<rect x="560.5" y="333.5" width="4" height="5" fill="#4fc3f7"/>
<line x1="570.5" y1="324" x2="570.5" y2="327.5"/>
<line x1="570.5" y1="338.5" x2="570.5" y2="341"/>
<rect x="568.5" y="327.5" width="4" height="11" fill="#ffffff"/>
<line x1="578.5" y1="321" x2="578.5" y2="322.5"/>
<line x1="578.5" y1="327.5" x2="578.5" y2="329"/>
<rect x="576.5" y="322.5" width="4" height="5" fill="#ffffff"/>
<line x1="585.5" y1="322" x2="585.5" y2="323.5"/>
<line x1="585.5" y1="330.5" x2="585.5" y2="334"/>
<rect x="583.5" y="323.5" width="4" height="7" fill="#4fc3f7"/>
<line x1="593.5" y1="313" x2="593.5" y2="319.5"/>
<rect x="591.5" y="319.5" width="4" height="11" fill="#ffffff"/>
<line x1="600.5" y1="297" x2="600.5" y2="318.5"/>
<line x1="600.5" y1="320.5" x2="600.5" y2="324"/>
<rect x="598.5" y="318.5" width="4" height="2" fill="#ffffff"/>
<line x1="608.5" y1="298" x2="608.5" y2="308.5"/>
<line x1="608.5" y1="321.5" x2="608.5" y2="322"/>
<rect x="606.5" y="308.5" width="4" height="13" fill="#ffffff"/>
<line x1="616.5" y1="286" x2="616.5" y2="288.5"/>
<line x1="616.5" y1="306.5" x2="616.5" y2="318"/>
<rect x="614.5" y="288.5" width="4" height="18" fill="#ffffff"/>
<line x1="623.5" y1="275" x2="623.5" y2="285.5"/>
<line x1="623.5" y1="295.5" x2="623.5" y2="308"/>
<rect x="621.5" y="285.5" width="4" height="10" fill="#4fc3f7"/>
<line x1="631.5" y1="278" x2="631.5" y2="280.5"/>
<line x1="631.5" y1="295.5" x2="631.5" y2="296"/>
<rect x="629.5" y="280.5" width="4" height="15" fill="#ffffff"/>
<line x1="639.5" y1="267" x2="639.5" y2="268.5"/>
<line x1="639.5" y1="279.5" x2="639.5" y2="285"/>
<rect x="637.5" y="268.5" width="4" height="11" fill="#ffffff"/>
<line x1="646.5" y1="266" x2="646.5" y2="267.5"/>
<line x1="646.5" y1="292.5" x2="646.5" y2="303"/>
<rect x="644.5" y="267.5" width="4" height="25" fill="#4fc3f7"/>
<line x1="654.5" y1="282" x2="654.5" y2="286.5"/>
<line x1="654.5" y1="291.5" x2="654.5" y2="297"/>
<rect x="652.5" y="286.5" width="4" height="5" fill="#ffffff"/>
<line x1="661.5" y1="282" x2="661.5" y2="282.5"/>
<line x1="661.5" y1="321.5" x2="661.5" y2="329"/>
<rect x="659.5" y="282.5" width="4" height="39" fill="#4fc3f7"/>
<line x1="669.5" y1="315" x2="669.5" y2="322.5"/>
<line x1="669.5" y1="324.5" x2="669.5" y2="333"/>
<rect x="667.5" y="322.5" width="4" height="2" fill="#4fc3f7"/>
<line x1="677.5" y1="314" x2="677.5" y2="319.5"/>
<line x1="677.5" y1="325.5" x2="677.5" y2="329"/>
<rect x="675.5" y="319.5" width="4" height="6" fill="#ffffff"/>
<line x1="684.5" y1="318" x2="684.5" y2="319.5"/>
<line x1="684.5" y1="323.5" x2="684.5" y2="330"/>
<rect x="682.5" y="319.5" width="4" height="4" fill="#4fc3f7"/>
<line x1="692.5" y1="324.5" x2="692.5" y2="327"/>
<rect x="690.5" y="321.5" width="4" height="3" fill="#4fc3f7"/>
<line x1="700.5" y1="323" x2="700.5" y2="323.5"/>
<line x1="700.5" y1="339.5" x2="700.5" y2="346"/>
<rect x="698.5" y="323.5" width="4" height="16" fill="#4fc3f7"/>
<line x1="707.5" y1="335" x2="707.5" y2="338.5"/>
<line x1="707.5" y1="340.5" x2="707.5" y2="352"/>
<rect x="705.5" y="338.5" width="4" height="2" fill="#ffffff"/>
<line x1="715.5" y1="324" x2="715.5" y2="329.5"/>
<rect x="713.5" y="329.5" width="4" height="9" fill="#ffffff"/>
<line x1="722.5" y1="330.5" x2="722.5" y2="335"/>
<rect x="720.5" y="317.5" width="4" height="13" fill="#ffffff"/>
<line x1="730.5" y1="315" x2="730.5" y2="317.5"/>
<line x1="730.5" y1="321.5" x2="730.5" y2="325"/>
<rect x="728.5" y="317.5" width="4" height="4" fill="#4fc3f7"/>
<line x1="738.5" y1="317" x2="738.5" y2="320.5"/>
<line x1="738.5" y1="328.5" x2="738.5" y2="329"/>
<rect x="736.5" y="320.5" width="4" height="8" fill="#4fc3f7"/>
<line x1="745.5" y1="325" x2="745.5" y2="327.5"/>
<line x1="745.5" y1="336.5" x2="745.5" y2="339"/>
<rect x="743.5" y="327.5" width="4" height="9" fill="#4fc3f7"/>
<line x1="753.5" y1="325" x2="753.5" y2="327.5"/>
<line x1="753.5" y1="336.5" x2="753.5" y2="339"/>
<rect x="751.5" y="327.5" width="4" height="9" fill="#ffffff"/>
<line x1="760.5" y1="320" x2="760.5" y2="326.5"/>
<line x1="760.5" y1="328.5" x2="760.5" y2="331"/>
<rect x="758.5" y="326.5" width="4" height="2" fill="#4fc3f7"/>
<line x1="768.5" y1="320" x2="768.5" y2="323.5"/>
<line x1="768.5" y1="328.5" x2="768.5" y2="330"/>
<rect x="766.5" y="323.5" width="4" height="5" fill="#ffffff"/>
<line x1="776.5" y1="324.5" x2="776.5" y2="326"/>
<rect x="774.5" y="303.5" width="4" height="21" fill="#ffffff"/>
<line x1="783.5" y1="296" x2="783.5" y2="296.5"/>
<line x1="783.5" y1="304.5" x2="783.5" y2="306"/>
<rect x="781.5" y="296.5" width="4" height="8" fill="#ffffff"/>
<line x1="791.5" y1="274" x2="791.5" y2="276.5"/>
<line x1="791.5" y1="297.5" x2="791.5" y2="300"/>
<rect x="789.5" y="276.5" width="4" height="21" fill="#ffffff"/>
<line x1="799.5" y1="266" x2="799.5" y2="276.5"/>
<line x1="799.5" y1="287.5" x2="799.5" y2="289"/>
<rect x="797.5" y="276.5" width="4" height="11" fill="#4fc3f7"/>
<line x1="806.5" y1="274" x2="806.5" y2="286.5"/>
<line x1="806.5" y1="302.5" x2="806.5" y2="308"/>
<rect x="804.5" y="286.5" width="4" height="16" fill="#4fc3f7"/>
<line x1="814.5" y1="296" x2="814.5" y2="302.5"/>
<line x1="814.5" y1="307.5" x2="814.5" y2="313"/>
<rect x="812.5" y="302.5" width="4" height="5" fill="#4fc3f7"/>
<line x1="821.5" y1="297" x2="821.5" y2="301.5"/>
<line x1="821.5" y1="307.5" x2="821.5" y2="315"/>
<rect x="819.5" y="301.5" width="4" height="6" fill="#ffffff"/>
<line x1="829.5" y1="285" x2="829.5" y2="295.5"/>
<line x1="829.5" y1="302.5" x2="829.5" y2="305"/>
<rect x="827.5" y="295.5" width="4" height="7" fill="#ffffff"/>
<line x1="837.5" y1="291" x2="837.5" y2="295.5"/>
<line x1="837.5" y1="302.5" x2="837.5" y2="307"/>
<rect x="835.5" y="295.5" width="4" height="7" fill="#4fc3f7"/>
<line x1="844.5" y1="300" x2="844.5" y2="301.5"/>
<line x1="844.5" y1="309.5" x2="844.5" y2="317"/>
<rect x="842.5" y="301.5" width="4" height="8" fill="#4fc3f7"/>
<line x1="852.5" y1="295" x2="852.5" y2="295.5"/>
<line x1="852.5" y1="308.5" x2="852.5" y2="311"/>
<rect x="850.5" y="295.5" width="4" height="13" fill="#ffffff"/>
<line x1="860.5" y1="292" x2="860.5" y2="294.5"/>
<line x1="860.5" y1="296.5" x2="860.5" y2="302"/>
<rect x="858.5" y="294.5" width="4" height="2" fill="#ffffff"/>
<line x1="867.5" y1="275" x2="867.5" y2="275.5"/>
<line x1="867.5" y1="295.5" x2="867.5" y2="296"/>
<rect x="865.5" y="275.5" width="4" height="20" fill="#ffffff"/>
<line x1="875.5" y1="271" x2="875.5" y2="275.5"/>
<line x1="875.5" y1="277.5" x2="875.5" y2="283"/>
<rect x="873.5" y="275.5" width="4" height="2" fill="#ffffff"/>
<line x1="882.5" y1="245" x2="882.5" y2="245.5"/>
<rect x="880.5" y="245.5" width="4" height="31" fill="#ffffff"/>
<line x1="890.5" y1="223" x2="890.5" y2="231.5"/>
<rect x="888.5" y="231.5" width="4" height="17" fill="#ffffff"/>
<line x1="898.5" y1="225" x2="898.5" y2="226.5"/>
<line x1="898.5" y1="232.5" x2="898.5" y2="245"/>
<rect x="896.5" y="226.5" width="4" height="6" fill="#ffffff"/>
<line x1="905.5" y1="222" x2="905.5" y2="226.5"/>
<line x1="905.5" y1="228.5" x2="905.5" y2="235"/>
<rect x="903.5" y="226.5" width="4" height="2" fill="#ffffff"/>
<line x1="913.5" y1="224" x2="913.5" y2="225.5"/>
<line x1="913.5" y1="240.5" x2="913.5" y2="246"/>
<rect x="911.5" y="225.5" width="4" height="15" fill="#4fc3f7"/>
<line x1="920.5" y1="219" x2="920.5" y2="227.5"/>
<line x1="920.5" y1="240.5" x2="920.5" y2="242"/>
<rect x="918.5" y="227.5" width="4" height="13" fill="#ffffff"/>
<line x1="928.5" y1="222" x2="928.5" y2="228.5"/>
<line x1="928.5" y1="230.5" x2="928.5" y2="236"/>
<rect x="926.5" y="228.5" width="4" height="2" fill="#4fc3f7"/>
<line x1="936.5" y1="204" x2="936.5" y2="205.5"/>
<line x1="936.5" y1="230.5" x2="936.5" y2="235"/>
<rect x="934.5" y="205.5" width="4" height="25" fill="#ffffff"/>
<line x1="943.5" y1="193" x2="943.5" y2="194.5"/>
<line x1="943.5" y1="207.5" x2="943.5" y2="211"/>
<rect x="941.5" y="194.5" width="4" height="13" fill="#ffffff"/>
<line x1="951.5" y1="171" x2="951.5" y2="177.5"/>
<line x1="951.5" y1="194.5" x2="951.5" y2="198"/>
<rect x="949.5" y="177.5" width="4" height="17" fill="#ffffff"/>
<line x1="959.5" y1="167" x2="959.5" y2="177.5"/>
<line x1="959.5" y1="194.5" x2="959.5" y2="204"/>
<rect x="957.5" y="177.5" width="4" height="17" fill="#4fc3f7"/>
<line x1="966.5" y1="172" x2="966.5" y2="172.5"/>
<line x1="966.5" y1="194.5" x2="966.5" y2="198"/>
<rect x="964.5" y="172.5" width="4" height="22" fill="#ffffff"/>
<line x1="974.5" y1="172" x2="974.5" y2="172.5"/>
<line x1="974.5" y1="176.5" x2="974.5" y2="191"/>
<rect x="972.5" y="172.5" width="4" height="4" fill="#4fc3f7"/>
<line x1="981.5" y1="146" x2="981.5" y2="151.5"/>
<line x1="981.5" y1="176.5" x2="981.5" y2="177"/>
<rect x="979.5" y="151.5" width="4" height="25" fill="#ffffff"/>
<line x1="989.5" y1="148" x2="989.5" y2="151.5"/>
<line x1="989.5" y1="159.5" x2="989.5" y2="168"/>
<rect x="987.5" y="151.5" width="4" height="8" fill="#4fc3f7"/>
<line x1="997.5" y1="140" x2="997.5" y2="143.5"/>
<line x1="997.5" y1="160.5" x2="997.5" y2="169"/>
<rect x="995.5" y="143.5" width="4" height="17" fill="#ffffff"/>
<line x1="1004.5" y1="121" x2="1004.5" y2="128.5"/>
<rect x="1002.5" y="128.5" width="4" height="14" fill="#ffffff"/>
</g>
<g stroke="#8d9ea7" stroke-width="1.1" stroke-dasharray="8.6 7.4" fill="none">
<line x1="325.5" y1="111.3" x2="1129.5" y2="111.3"/>
<line x1="325.5" y1="187.3" x2="1129.5" y2="187.3"/>
<line x1="325.5" y1="235.5" x2="1129.5" y2="235.5"/>
<line x1="325.5" y1="273.5" x2="1129.5" y2="273.5"/>
<line x1="325.5" y1="311.5" x2="1129.5" y2="311.5"/>
<line x1="325.5" y1="365.4" x2="1129.5" y2="365.4"/>
<line x1="325.5" y1="435.4" x2="1129.5" y2="435.4"/>
</g>
<line x1="326.3" y1="435.2" x2="661.8" y2="111.3" stroke="#a3aeb5" stroke-width="1.35"/>
<line x1="2" y1="92.5" x2="1196" y2="92.5" stroke="#8a9ca9" stroke-width="1" shape-rendering="crispEdges"/>
<rect x="623.5" y="103.5" width="434" height="15" fill="rgba(255,222,222,0.33)" stroke="rgba(243,120,120,0.55)" stroke-width="1"/>
<line x1="645.5" y1="111.3" x2="1083" y2="111.3" stroke="#97a4ad" stroke-width="1.2"/>
<line x1="653.4" y1="110.45" x2="1083.5" y2="110.45" stroke="#f6a3a3" stroke-width="3" stroke-dasharray="7.9 8.15" stroke-linecap="round"/>
</g>
<line x1="714.08" y1="184.5" x2="1094.08" y2="31" stroke="#2a3137" stroke-width="0.95"/>
<line x1="714.6" y1="185.8" x2="1094.6" y2="32.3" stroke="#2a3137" stroke-width="0.95"/>
<line x1="715.12" y1="187.1" x2="1095.12" y2="33.6" stroke="#2a3137" stroke-width="0.95"/>
<line x1="745.18" y1="243" x2="1124.48" y2="89.7" stroke="#2a3137" stroke-width="0.95"/>
<line x1="745.7" y1="244.3" x2="1125" y2="91" stroke="#2a3137" stroke-width="0.95"/>
<line x1="746.22" y1="245.6" x2="1125.52" y2="92.3" stroke="#2a3137" stroke-width="0.95"/>
<text x="1128.5" y="107.1" font-size="11" fill="#9fb0ba" text-anchor="end" letter-spacing="0.15">0.0 (4357.34)</text>
<text x="1128.5" y="183.1" font-size="11" fill="#9fb0ba" text-anchor="end" letter-spacing="0.15">23.6 (4108.21)</text>
<text x="1128.5" y="231.3" font-size="11" fill="#9fb0ba" text-anchor="end" letter-spacing="0.15">38.2 (3955.95)</text>
<text x="1128.5" y="269.3" font-size="11" fill="#9fb0ba" text-anchor="end" letter-spacing="0.15">50.0 (3832.89)</text>
<text x="1128.5" y="307.3" font-size="11" fill="#9fb0ba" text-anchor="end" letter-spacing="0.15">61.8 (3709.82)</text>
<text x="1128.5" y="361.2" font-size="11" fill="#9fb0ba" text-anchor="end" letter-spacing="0.15">78.6 (3534.61)</text>
<text x="1128.5" y="431.2" font-size="11" fill="#9fb0ba" text-anchor="end" letter-spacing="0.15">100.0 (3311.43)</text>
<rect x="1083" y="104" width="47" height="14.6" fill="#f48a8a"/>
<text x="1087.8" y="115.3" font-size="11" fill="#ffffff" letter-spacing="0.2">4357.60</text>
<text x="1140.3" y="57.1" font-size="12" fill="#263238">76.434</text>
<text x="1205.2" y="57.1" font-size="12" fill="#263238">4543.35</text>
<text x="1140.3" y="92.5" font-size="12" fill="#263238">72.768</text>
<text x="1140.3" y="127.9" font-size="12" fill="#263238">69.102</text>
<text x="1205.2" y="127.9" font-size="12" fill="#263238">4315.26</text>
<text x="1140.3" y="163.3" font-size="12" fill="#263238">65.436</text>
<text x="1205.2" y="163.3" font-size="12" fill="#263238">4201.21</text>
<text x="1140.3" y="198.7" font-size="12" fill="#263238">61.771</text>
<text x="1205.2" y="198.7" font-size="12" fill="#263238">4087.16</text>
<text x="1140.3" y="234.1" font-size="12" fill="#263238">58.105</text>
<text x="1205.2" y="234.1" font-size="12" fill="#263238">3973.12</text>
<text x="1140.3" y="269.5" font-size="12" fill="#263238">54.439</text>
<text x="1205.2" y="269.5" font-size="12" fill="#263238">3859.07</text>
<text x="1140.3" y="304.9" font-size="12" fill="#263238">50.773</text>
<text x="1205.2" y="304.9" font-size="12" fill="#263238">3745.02</text>
<text x="1140.3" y="340.3" font-size="12" fill="#263238">47.108</text>
<text x="1205.2" y="340.3" font-size="12" fill="#263238">3630.98</text>
<text x="1140.3" y="375.7" font-size="12" fill="#263238">43.442</text>
<text x="1205.2" y="375.7" font-size="12" fill="#263238">3516.93</text>
<text x="1140.3" y="411.1" font-size="12" fill="#263238">39.776</text>
<text x="1205.2" y="411.1" font-size="12" fill="#263238">3402.89</text>
<line x1="1136" y1="92.5" x2="1196" y2="92.5" stroke="#8a9ca9" stroke-width="1" shape-rendering="crispEdges"/>
<path d="M1194.2 92.4 L1201.3 84.4 L1252.6 84.4 L1252.6 100.7 L1201.3 100.7 Z" fill="#8d9ea9"/>
<text x="1205.2" y="96.8" font-size="12" fill="#ffffff" stroke="#ffffff" stroke-width="0.25" textLength="43.5" lengthAdjust="spacingAndGlyphs">4417.87</text>
<rect x="1144.2" y="446.3" width="5.7" height="5.5" fill="#4fc3f7"/>
<text x="1153.4" y="451.8" font-size="8.6" font-weight="bold" fill="#37474f" textLength="28.2" lengthAdjust="spacingAndGlyphs">SILVER</text>
<rect x="1216" y="446.3" width="5.7" height="5.5" fill="#26a269"/>
<text x="1225.2" y="451.8" font-size="8.6" font-weight="bold" fill="#37474f" textLength="22.7" lengthAdjust="spacingAndGlyphs">GOLD</text>
<rect x="1210" y="455.3" width="40" height="15.3" rx="3.2" fill="#e53935"/>
<text y="463.6" font-size="13.2"><tspan x="1071.8" fill="#ff8f00">07</tspan><tspan x="1088.7" fill="#9aa5ad">h</tspan><tspan x="1101" fill="#ff8f00">30</tspan><tspan x="1118" fill="#9aa5ad">m</tspan></text>
<rect x="6.1" y="544.5" width="9.9" height="2.3" rx="0.6" fill="#adadad"/>
<rect x="13.8" y="545.3" width="1.5" height="0.7" fill="#ffffff" opacity="0.7"/>
<rect x="6.1" y="547.95" width="9.9" height="2.3" rx="0.6" fill="#adadad"/>
<rect x="11.2" y="548.65" width="3.9" height="0.75" fill="#ffffff" opacity="0.85"/>
<rect x="6.1" y="551.4" width="9.9" height="2.3" rx="0.6" fill="#adadad"/>
<rect x="13.8" y="552.2" width="1.5" height="0.7" fill="#ffffff" opacity="0.7"/>
<path d="M20.6 545.8 L27.2 552.4 M27.2 545.8 L20.6 552.4" stroke="#a2a2a2" stroke-width="2.8" stroke-linecap="butt"/>
<text x="31.3" y="555.4" font-size="10" fill="#555b60" textLength="61" lengthAdjust="spacing" xml:space="preserve">RSI  [14]  77.6</text>
<g stroke="#ff8c00" stroke-width="2" stroke-dasharray="10 6">
<line x1="1" y1="500.5" x2="1100.5" y2="501.4"/>
<line x1="1" y1="544.75" x2="1100.5" y2="545.35"/>
</g>
<path d="M6.5 519 L14.5 525 L21.5 523.4 L29.5 524.6 L37.5 532.1 L44.5 526.3 L52.5 521.6 L59.5 518.6 L67.5 524 L75.5 523 L82.5 521.8 L90.5 528.1 L98.5 526.3 L105.5 523.6 L113.5 518.6 L120.5 521 L128.5 524 L136.5 519.8 L143.5 522 L151.5 520.2 L158.5 511.5 L166.5 507.6 L174.5 516.5 L181.5 520.6 L189.5 525 L197.5 528.1 L204.5 526.1 L212.5 533.1 L219.5 531.1 L227.5 520.2 L235.5 518 L242.5 516.5 L250.5 519 L258.5 514.9 L265.5 514.9 L273.5 523.6 L280.5 523.6 L288.5 521.8 L296.5 526.1 L303.5 524.6 L311.5 525.6 L319.5 528.7 L326.5 522.6 L334.5 523.6 L341.5 517.5 L349.5 520 L357.5 515.1 L364.5 513.5 L372.5 510.5 L379.5 505.8 L387.5 501.9 L395.5 496.7 L402.5 494.7 L410.5 497.9 L418.5 493.8 L425.5 490.6 L433.5 493 L440.5 492.2 L448.5 493.8 L456.5 492.8 L463.5 490.8 L471.5 489.4 L479.5 497.3 L486.5 501.9 L494.5 497.7 L501.5 492.8 L509.5 491.8 L517.5 498.9 L524.5 496.9 L532.5 495.3 L539.5 490.8 L547.5 489.6 L555.5 488.8 L562.5 491 L570.5 489.6 L578.5 485.9 L585.5 484.7 L593.5 481.9 L600.5 495.9 L608.5 493.4 L616.5 488.8 L623.5 487.6 L631.5 484.3 L639.5 481.9 L646.5 495.7 L654.5 491 L661.5 512.5 L669.5 514.9 L677.5 512.7 L684.5 514.5 L692.5 516.9 L700.5 522.6 L707.5 526.9 L715.5 526.9 L722.5 520 L730.5 522 L738.5 522 L745.5 527.1 L753.5 523.8 L760.5 523.6 L768.5 521.8 L776.5 512.5 L783.5 512.5 L791.5 507.8 L799.5 511.1 L806.5 518.6 L814.5 522 L821.5 520 L829.5 519.8 L837.5 519.8 L844.5 521 L852.5 514.9 L860.5 514.9 L867.5 511.9 L875.5 512.9 L882.5 508 L890.5 506.6 L898.5 510.9 L905.5 510.9 L913.5 510.9 L920.5 510.9 L928.5 514.1 L936.5 511.9 L943.5 508.8 L951.5 504 L959.5 501.7 L966.5 501.7 L974.5 501.7 L981.5 498.7 L989.5 499.7 L997.5 498.7 L1004.5 492.8" fill="none" stroke="#1f2a33" stroke-width="1.7" stroke-linejoin="round" stroke-linecap="round" />
<rect x="1101" y="494.2" width="30" height="14.4" fill="#ff8c00"/>
<rect x="1101" y="538" width="30" height="14.8" fill="#ff8c00"/>
<text x="1116" y="505.4" font-size="11" fill="#ffffff" text-anchor="middle" letter-spacing="0.3">70.0</text>
<text x="1116" y="549.4" font-size="11" fill="#ffffff" text-anchor="middle" letter-spacing="0.3">30.0</text>
<text x="1205.2" y="505" font-size="12" fill="#263238">70.0</text>
<text x="1205.2" y="549.1" font-size="12" fill="#263238">30.0</text>
<g opacity="0.92">
<rect x="6.2" y="602.2" width="9.6" height="2.2" rx="0.8" fill="#a6a6a6"/>
<rect x="6.2" y="605.3" width="9.6" height="2.2" rx="0.8" fill="#a6a6a6"/>
<rect x="6.2" y="608.4" width="9.6" height="2.2" rx="0.8" fill="#a6a6a6"/>
<path d="M20.8 603.5 L27.2 609.9 M27.2 603.5 L20.8 609.9" stroke="#9a9a9a" stroke-width="2.6"/>
<text x="31.1" y="613.1" font-size="10" fill="#4e5357" textLength="131.5" lengthAdjust="spacing" xml:space="preserve">Wolumen  (tickowy)  751540</text>
</g>
<rect x="5" y="591" width="3" height="25" fill="#e32a26" opacity="0.86"/>
<rect x="13" y="589" width="3" height="27" fill="#e32a26" opacity="0.86"/>
<rect x="20" y="597" width="3" height="19" fill="#00a262" opacity="0.86"/>
<rect x="28" y="594" width="3" height="22" fill="#e32a26" opacity="0.86"/>
<rect x="36" y="587" width="3" height="29" fill="#e32a26" opacity="0.86"/>
<rect x="43" y="592" width="3" height="24" fill="#00a262" opacity="0.86"/>
<rect x="51" y="592" width="3" height="24" fill="#00a262" opacity="0.86"/>
<rect x="58" y="593" width="3" height="23" fill="#00a262" opacity="0.86"/>
<rect x="66" y="595" width="3" height="21" fill="#e32a26" opacity="0.86"/>
<rect x="74" y="603" width="3" height="13" fill="#00a262" opacity="0.86"/>
<rect x="81" y="597" width="3" height="19" fill="#00a262" opacity="0.86"/>
<rect x="89" y="599" width="3" height="17" fill="#e32a26" opacity="0.86"/>
<rect x="97" y="600" width="3" height="16" fill="#00a262" opacity="0.86"/>
<rect x="104" y="601" width="3" height="15" fill="#00a262" opacity="0.86"/>
<rect x="112" y="597" width="3" height="19" fill="#00a262" opacity="0.86"/>
<rect x="119" y="596" width="3" height="20" fill="#e32a26" opacity="0.86"/>
<rect x="127" y="598" width="3" height="18" fill="#e32a26" opacity="0.86"/>
<rect x="135" y="598" width="3" height="18" fill="#00a262" opacity="0.86"/>
<rect x="142" y="598" width="3" height="18" fill="#e32a26" opacity="0.86"/>
<rect x="150" y="600" width="3" height="16" fill="#00a262" opacity="0.86"/>
<rect x="157" y="598" width="3" height="18" fill="#00a262" opacity="0.86"/>
<rect x="165" y="595" width="3" height="21" fill="#00a262" opacity="0.86"/>
<rect x="173" y="595" width="3" height="21" fill="#e32a26" opacity="0.86"/>
<rect x="180" y="597" width="3" height="19" fill="#e32a26" opacity="0.86"/>
<rect x="188" y="599" width="3" height="17" fill="#e32a26" opacity="0.86"/>
<rect x="196" y="597" width="3" height="19" fill="#e32a26" opacity="0.86"/>
<rect x="203" y="598" width="3" height="18" fill="#00a262" opacity="0.86"/>
<rect x="211" y="597" width="3" height="19" fill="#e32a26" opacity="0.86"/>
<rect x="218" y="597" width="3" height="19" fill="#00a262" opacity="0.86"/>
<rect x="226" y="596" width="3" height="20" fill="#00a262" opacity="0.86"/>
<rect x="234" y="597" width="3" height="19" fill="#00a262" opacity="0.86"/>
<rect x="241" y="600" width="3" height="16" fill="#00a262" opacity="0.86"/>
<rect x="249" y="599" width="3" height="17" fill="#e32a26" opacity="0.86"/>
<rect x="257" y="588" width="3" height="28" fill="#00a262" opacity="0.86"/>
<rect x="264" y="585" width="3" height="31" fill="#e32a26" opacity="0.86"/>
<rect x="272" y="589" width="3" height="27" fill="#e32a26" opacity="0.86"/>
<rect x="279" y="592" width="3" height="24" fill="#00a262" opacity="0.86"/>
<rect x="287" y="597" width="3" height="19" fill="#00a262" opacity="0.86"/>
<rect x="295" y="594" width="3" height="22" fill="#e32a26" opacity="0.86"/>
<rect x="302" y="599" width="3" height="17" fill="#00a262" opacity="0.86"/>
<rect x="310" y="598" width="3" height="18" fill="#e32a26" opacity="0.86"/>
<rect x="318" y="599" width="3" height="17" fill="#e32a26" opacity="0.86"/>
<rect x="325" y="599" width="3" height="17" fill="#00a262" opacity="0.86"/>
<rect x="333" y="599" width="3" height="17" fill="#e32a26" opacity="0.86"/>
<rect x="340" y="598" width="3" height="18" fill="#00a262" opacity="0.86"/>
<rect x="348" y="601" width="3" height="15" fill="#e32a26" opacity="0.86"/>
<rect x="356" y="591" width="3" height="25" fill="#00a262" opacity="0.86"/>
<rect x="363" y="597" width="3" height="19" fill="#00a262" opacity="0.86"/>
<rect x="371" y="595" width="3" height="21" fill="#00a262" opacity="0.86"/>
<rect x="378" y="594" width="3" height="22" fill="#00a262" opacity="0.86"/>
<rect x="386" y="591" width="3" height="25" fill="#00a262" opacity="0.86"/>
<rect x="394" y="582" width="3" height="34" fill="#00a262" opacity="0.86"/>
<rect x="401" y="583" width="3" height="33" fill="#00a262" opacity="0.86"/>
<rect x="409" y="587" width="3" height="29" fill="#e32a26" opacity="0.86"/>
<rect x="417" y="591" width="3" height="25" fill="#00a262" opacity="0.86"/>
<rect x="424" y="586" width="3" height="30" fill="#00a262" opacity="0.86"/>
<rect x="432" y="587" width="3" height="29" fill="#e32a26" opacity="0.86"/>
<rect x="439" y="588" width="3" height="28" fill="#00a262" opacity="0.86"/>
<rect x="447" y="593" width="3" height="23" fill="#e32a26" opacity="0.86"/>
<rect x="455" y="594" width="3" height="22" fill="#00a262" opacity="0.86"/>
<rect x="462" y="595" width="3" height="21" fill="#00a262" opacity="0.86"/>
<rect x="470" y="596" width="3" height="20" fill="#00a262" opacity="0.86"/>
<rect x="478" y="592" width="3" height="24" fill="#e32a26" opacity="0.86"/>
<rect x="485" y="594" width="3" height="22" fill="#e32a26" opacity="0.86"/>
<rect x="493" y="597" width="3" height="19" fill="#00a262" opacity="0.86"/>
<rect x="500" y="593" width="3" height="23" fill="#00a262" opacity="0.86"/>
<rect x="508" y="590" width="3" height="26" fill="#00a262" opacity="0.86"/>
<rect x="516" y="593" width="3" height="23" fill="#e32a26" opacity="0.86"/>
<rect x="523" y="592" width="3" height="24" fill="#00a262" opacity="0.86"/>
<rect x="531" y="593" width="3" height="23" fill="#00a262" opacity="0.86"/>
<rect x="538" y="587" width="3" height="29" fill="#00a262" opacity="0.86"/>
<rect x="546" y="589" width="3" height="27" fill="#00a262" opacity="0.86"/>
<rect x="554" y="590" width="3" height="26" fill="#00a262" opacity="0.86"/>
<rect x="561" y="592" width="3" height="24" fill="#e32a26" opacity="0.86"/>
<rect x="569" y="593" width="3" height="23" fill="#00a262" opacity="0.86"/>
<rect x="577" y="584" width="3" height="32" fill="#00a262" opacity="0.86"/>
<rect x="584" y="585" width="3" height="31" fill="#00a262" opacity="0.86"/>
<rect x="592" y="585" width="3" height="31" fill="#00a262" opacity="0.86"/>
<rect x="599" y="577" width="3" height="39" fill="#e32a26" opacity="0.86"/>
<rect x="607" y="580" width="3" height="36" fill="#00a262" opacity="0.86"/>
<rect x="615" y="581" width="3" height="35" fill="#00a262" opacity="0.86"/>
<rect x="622" y="577" width="3" height="39" fill="#00a262" opacity="0.86"/>
<rect x="630" y="580" width="3" height="36" fill="#00a262" opacity="0.86"/>
<rect x="638" y="577" width="3" height="39" fill="#00a262" opacity="0.86"/>
<rect x="645" y="570" width="3" height="46" fill="#e32a26" opacity="0.86"/>
<rect x="653" y="568" width="3" height="48" fill="#00a262" opacity="0.86"/>
<rect x="660" y="568" width="3" height="48" fill="#e32a26" opacity="0.86"/>
<rect x="668" y="569" width="3" height="47" fill="#e32a26" opacity="0.86"/>
<rect x="676" y="574" width="3" height="42" fill="#00a262" opacity="0.86"/>
<rect x="683" y="578" width="3" height="38" fill="#e32a26" opacity="0.86"/>
<rect x="691" y="614" width="3" height="2" fill="#e32a26" opacity="0.86"/>
<rect x="699" y="575" width="3" height="41" fill="#e32a26" opacity="0.86"/>
<rect x="706" y="579" width="3" height="37" fill="#e32a26" opacity="0.86"/>
<rect x="714" y="577" width="3" height="39" fill="#00a262" opacity="0.86"/>
<rect x="721" y="579" width="3" height="37" fill="#00a262" opacity="0.86"/>
<rect x="729" y="578" width="3" height="38" fill="#e32a26" opacity="0.86"/>
<rect x="737" y="582" width="3" height="34" fill="#00a262" opacity="0.86"/>
<rect x="744" y="583" width="3" height="33" fill="#e32a26" opacity="0.86"/>
<rect x="752" y="587" width="3" height="29" fill="#00a262" opacity="0.86"/>
<rect x="759" y="586" width="3" height="30" fill="#e32a26" opacity="0.86"/>
<rect x="767" y="590" width="3" height="26" fill="#00a262" opacity="0.86"/>
<rect x="775" y="585" width="3" height="31" fill="#00a262" opacity="0.86"/>
<rect x="782" y="587" width="3" height="29" fill="#00a262" opacity="0.86"/>
<rect x="790" y="585" width="3" height="31" fill="#00a262" opacity="0.86"/>
<rect x="798" y="585" width="3" height="31" fill="#e32a26" opacity="0.86"/>
<rect x="805" y="586" width="3" height="30" fill="#e32a26" opacity="0.86"/>
<rect x="813" y="584" width="3" height="32" fill="#e32a26" opacity="0.86"/>
<rect x="820" y="586" width="3" height="30" fill="#00a262" opacity="0.86"/>
<rect x="828" y="586" width="3" height="30" fill="#00a262" opacity="0.86"/>
<rect x="836" y="586" width="3" height="30" fill="#e32a26" opacity="0.86"/>
<rect x="843" y="588" width="3" height="28" fill="#e32a26" opacity="0.86"/>
<rect x="851" y="588" width="3" height="28" fill="#00a262" opacity="0.86"/>
<rect x="859" y="578" width="3" height="38" fill="#e32a26" opacity="0.86"/>
<rect x="866" y="578" width="3" height="38" fill="#00a262" opacity="0.86"/>
<rect x="874" y="587" width="3" height="29" fill="#e32a26" opacity="0.86"/>
<rect x="881" y="589" width="3" height="27" fill="#00a262" opacity="0.86"/>
<rect x="889" y="571" width="3" height="45" fill="#00a262" opacity="0.86"/>
<rect x="897" y="576" width="3" height="40" fill="#e32a26" opacity="0.86"/>
<rect x="904" y="576" width="3" height="40" fill="#e32a26" opacity="0.86"/>
<rect x="912" y="570" width="3" height="46" fill="#00a262" opacity="0.86"/>
<rect x="919" y="573" width="3" height="43" fill="#e32a26" opacity="0.86"/>
<rect x="927" y="573" width="3" height="43" fill="#e32a26" opacity="0.86"/>
<rect x="935" y="569" width="3" height="47" fill="#00a262" opacity="0.86"/>
<rect x="942" y="566" width="3" height="50" fill="#00a262" opacity="0.86"/>
<rect x="950" y="566" width="3" height="50" fill="#00a262" opacity="0.86"/>
<rect x="958" y="566" width="3" height="50" fill="#00a262" opacity="0.86"/>
<rect x="965" y="569" width="3" height="47" fill="#00a262" opacity="0.86"/>
<rect x="973" y="566" width="3" height="50" fill="#e32a26" opacity="0.86"/>
<rect x="980" y="568" width="3" height="48" fill="#00a262" opacity="0.86"/>
<rect x="988" y="568" width="3" height="48" fill="#e32a26" opacity="0.86"/>
<rect x="996" y="576" width="3" height="40" fill="#00a262" opacity="0.86"/>
<rect x="1003" y="583" width="3" height="33" fill="#00a262" opacity="0.86"/>
<text x="1205.2" y="573" font-size="12" fill="#263238">1236233</text>
<text x="1205.2" y="593.1" font-size="12" fill="#263238">618116</text>
<text x="1205.2" y="614.7" font-size="12" fill="#263238">0</text>
<line x1="6.5" y1="616" x2="6.5" y2="619" stroke="#e1e5e8" stroke-width="1"/>
<text x="6.08" y="628" font-size="12" fill="#263238">23.06.2025</text>
<line x1="143.5" y1="616" x2="143.5" y2="619" stroke="#e1e5e8" stroke-width="1"/>
<text x="143.42" y="628" font-size="12" fill="#263238">17.07.2025</text>
<line x1="280.5" y1="616" x2="280.5" y2="619" stroke="#e1e5e8" stroke-width="1"/>
<text x="280.76" y="628" font-size="12" fill="#263238">12.08.2025</text>
<line x1="418.5" y1="616" x2="418.5" y2="619" stroke="#e1e5e8" stroke-width="1"/>
<text x="418.1" y="628" font-size="12" fill="#263238">05.09.2025</text>
<line x1="555.5" y1="616" x2="555.5" y2="619" stroke="#e1e5e8" stroke-width="1"/>
<text x="555.44" y="628" font-size="12" fill="#263238">01.10.2025</text>
<line x1="692.5" y1="616" x2="692.5" y2="619" stroke="#e1e5e8" stroke-width="1"/>
<text x="692.78" y="628" font-size="12" fill="#263238">26.10.2025</text>
<line x1="830.5" y1="616" x2="830.5" y2="619" stroke="#e1e5e8" stroke-width="1"/>
<text x="830.12" y="628" font-size="12" fill="#263238">19.11.2025</text>
<line x1="967.5" y1="616" x2="967.5" y2="619" stroke="#e1e5e8" stroke-width="1"/>
<text x="967.46" y="628" font-size="12" fill="#263238">15.12.2025</text>
<line x1="1104.5" y1="616" x2="1104.5" y2="619" stroke="#e1e5e8" stroke-width="1"/>
<text x="1104.8" y="628" font-size="12" fill="#263238">04.01.2026</text>
<text x="20.3" y="23.2" font-size="12" font-weight="bold" fill="#263238" textLength="29.8" lengthAdjust="spacingAndGlyphs">GOLD</text>
<text x="54.8" y="22.1" font-size="7.9" font-weight="bold" fill="#6b767d" textLength="15" lengthAdjust="spacingAndGlyphs">CFD</text>
<path d="M79.4 16.6 L85.6 16.6 L82.5 19.7 Z" fill="#757575"/>
<text x="126.2" y="23" font-size="10.4" fill="#455a64" textLength="12.2" lengthAdjust="spacingAndGlyphs">D1</text>
<path d="M155 16.6 L161.2 16.6 L158.1 19.7 Z" fill="#757575"/>
</svg></body></html>
